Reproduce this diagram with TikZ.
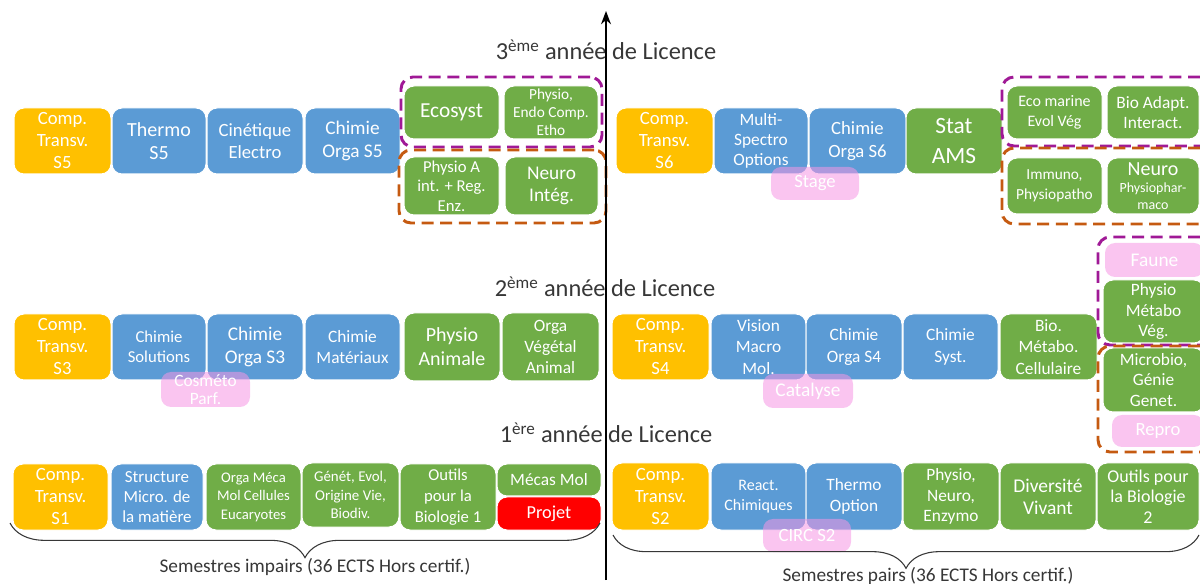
\documentclass[tikz,border=0pt]{standalone}
\usepackage{fontspec}
\setmainfont{Carlito}
\usetikzlibrary{fit,decorations.pathreplacing,arrows.meta}
\definecolor{cOr}{RGB}{255,192,0}
\definecolor{cBl}{RGB}{91,155,213}
\definecolor{cGr}{RGB}{112,173,71}
\definecolor{cPk}{RGB}{245,150,228}
\definecolor{cRd}{RGB}{255,0,0}
\definecolor{cPu}{RGB}{160,25,150}
\definecolor{cOd}{RGB}{197,90,17}
\definecolor{cTx}{RGB}{55,55,55}
\newcommand{\fs}[2]{\fontsize{#1pt}{#2pt}\selectfont}
\newcommand{\bx}[9]{\node[#6, font=\fs{#7}{#8}, minimum width={(#4-#2)*0.75pt}, minimum height={(#5-#3)*0.75pt}] (#1) at ({(#2+#4)/2},{(#3+#5)/2}) {#9};}
\tikzset{
  mod/.style={rounded corners=7.5pt, draw=white, line width=0.75pt, inner sep=0pt, text=white, align=center, anchor=center},
  orbox/.style={mod, fill=cOr},
  blbox/.style={mod, fill=cBl},
  grbox/.style={mod, fill=cGr},
  rdbox/.style={mod, fill=cRd},
  pkbox/.style={mod, draw=none, fill=cPk, fill opacity=0.55, text opacity=1},
  grp/.style={rounded corners=9pt, line width=2.2pt, dash pattern=on 9pt off 5pt, inner sep=0pt},
  grppu/.style={grp, draw=cPu},
  grpor/.style={grp, draw=cOd},
  title/.style={text=cTx, font=\fs{18.3}{21}},
  blab/.style={text=cTx, font=\fs{14.5}{17}},
  brc/.style={decorate, draw=cTx, line width=0.8pt},
}
\begin{document}
\begin{tikzpicture}[x=0.75pt,y=-0.75pt]
\useasboundingbox (0,0) rectangle (1200,584);
\clip (0,0) rectangle (1200,584);
% ---- 3e annee
\bx{s5ct}{14}{108}{111}{174}{orbox}{14}{16.5}{Comp.\\Transv.\\S5}
\bx{s5th}{112}{108}{206}{174}{blbox}{15}{17}{Thermo\\S5}
\bx{s5ci}{207}{108}{303}{174}{blbox}{14}{17}{Cinétique\\Electro}
\bx{s5co}{305}{108}{400}{174}{blbox}{14.5}{17}{Chimie\\Orga S5}
\bx{s5ec}{404}{86}{499}{139}{grbox}{16}{18}{Ecosyst}
\bx{s5ph}{504}{86}{598}{139}{grbox}{11.5}{13.5}{Physio,\\Endo Comp.\\Etho}
\bx{s5pa}{404}{157}{499}{215}{grbox}{12.5}{14.5}{Physio A\\int. + Reg.\\Enz.}
\bx{s5ne}{505}{157}{598}{215}{grbox}{14.5}{16.5}{Neuro\\Intég.}
\bx{s6ct}{616}{108}{713}{174}{orbox}{14}{16.5}{Comp.\\Transv.\\S6}
\bx{s6ms}{714}{108}{808}{174}{blbox}{13}{15}{Multi-\\Spectro\\Options}
\bx{s6co}{809}{108}{906}{174}{blbox}{14}{17}{Chimie\\Orga S6}
\bx{s6st}{906}{108}{1002}{174}{grbox}{17.5}{22}{Stat\\AMS}
\bx{s6em}{1007}{86}{1102}{139}{grbox}{12}{15}{Eco marine\\Evol Vég}
\bx{s6ba}{1107}{86}{1199}{139}{grbox}{13}{15}{Bio Adapt.\\Interact.}
\bx{s6im}{1007}{158}{1102}{214}{grbox}{11.5}{15}{Immuno,\\Physiopatho}
\bx{s6ne}{1107}{158}{1199}{214}{grbox}{10.5}{12.5}{{\fs{15}{17}Neuro}\\Physiophar-\\maco}
\bx{s6sg}{771}{167}{859}{200}{pkbox}{14}{16}{Stage}
% ---- 2e annee
\bx{s3ct}{14}{314}{111}{380}{orbox}{14}{16.5}{Comp.\\Transv.\\S3}
\bx{s3cs}{112}{314}{206}{380}{blbox}{12.5}{15}{Chimie\\Solutions}
\bx{s3co}{207}{314}{303}{380}{blbox}{14.5}{17}{Chimie\\Orga S3}
\bx{s3cm}{305}{314}{400}{380}{blbox}{13}{16}{Chimie\\Matériaux}
\bx{s3pa}{404}{313}{500}{381}{grbox}{15}{18}{Physio\\Animale}
\bx{s3ov}{502}{313}{599}{381}{grbox}{13}{15.5}{Orga\\Végétal\\Animal}
\bx{s3cp}{161}{372}{250}{407}{pkbox}{13}{14}{Cosméto\\Parf.}
\bx{s4ct}{612}{314}{709}{380}{orbox}{14}{16.5}{Comp.\\Transv.\\S4}
\bx{s4vm}{711}{314}{806}{380}{blbox}{13}{16}{Vision\\Macro\\Mol.}
\bx{s4co}{806}{314}{902}{380}{blbox}{13}{16}{Chimie\\Orga S4}
\bx{s4cs}{903}{314}{998}{380}{blbox}{13}{16}{Chimie\\Syst.}
\bx{s4bm}{1000}{314}{1097}{380}{grbox}{13}{16}{Bio.\\Métabo.\\Cellulaire}
\bx{s4ca}{763}{374}{853}{408}{pkbox}{14.5}{16}{Catalyse}
\bx{s4fa}{1105}{243}{1204}{277}{pkbox}{14.5}{16}{Faune}
\bx{s4pm}{1103}{280}{1204}{343}{grbox}{13}{15.5}{Physio\\Métabo\\Vég.}
\bx{s4mg}{1103}{348}{1204}{412}{grbox}{13}{15.5}{Microbio,\\Génie\\Genet.}
\bx{s4re}{1112}{415}{1204}{447}{pkbox}{14}{16}{Repro}
% ---- 1re annee
\bx{s1ct}{13}{464}{108}{530}{orbox}{14}{16.5}{Comp.\\Transv.\\S1}
\bx{s1sm}{111}{464}{203}{530}{blbox}{12.7}{15.2}{Structure\\Micro. de\\la matière}
\bx{s1om}{206}{464}{301}{530}{grbox}{11}{13.8}{Orga Méca\\Mol Cellules\\Eucaryotes}
\bx{s1ge}{302}{463}{399}{527}{grbox}{11.2}{14}{Génét, Evol,\\Origine Vie,\\Biodiv.}
\bx{s1ou}{400}{464}{496}{530}{grbox}{12.5}{15.5}{Outils\\pour la\\Biologie 1}
\bx{s1mm}{497}{464}{601}{496}{grbox}{13}{15}{Mécas Mol}
\bx{s1pr}{497}{497}{601}{530}{rdbox}{13.7}{15}{Projet}
\bx{s2ct}{612}{463}{709}{530}{orbox}{14}{16.5}{Comp.\\Transv.\\S2}
\bx{s2rc}{711}{463}{806}{530}{blbox}{12}{15}{React.\\Chimiques}
\bx{s2to}{806}{463}{902}{530}{blbox}{13}{16}{Thermo\\Option}
\bx{s2pn}{903}{463}{999}{530}{grbox}{13}{15.5}{Physio,\\Neuro,\\Enzymo}
\bx{s2dv}{1000}{463}{1096}{530}{grbox}{14.6}{16.5}{Diversité\\Vivant}
\bx{s2ob}{1097}{463}{1199}{530}{grbox}{13.5}{15.5}{Outils pour\\la Biologie\\2}
\bx{s2ci}{763}{519}{851}{552}{pkbox}{14}{16}{CIRC S2}
% ---- dashed groups
\node[grppu, fit={(401,77) (602,147)}] (g5pu) {};
\node[grpor, fit={(399,150) (606,223)}] (g5or) {};
\node[grppu, fit={(1002,77) (1212,146)}] (g6pu) {};
\node[grpor, fit={(1002,148) (1212,224)}] (g6or) {};
\node[grppu, fit={(1098,237) (1212,345)}] (g4pu) {};
\node[grpor, fit={(1098,346) (1212,452)}] (g4or) {};
% ---- titles
\node[title] (t3) at (606,50) {3\textsuperscript{ème} année de Licence};
\node[title] (t2) at (605,287) {2\textsuperscript{ème} année de Licence};
\node[title] (t1) at (606,433) {1\textsuperscript{ère} année de Licence};
% ---- axis
\coordinate (axb) at (606,580);
\coordinate (axt) at (606,11);
\draw[line width=1.1pt, -{Stealth[length=10pt,width=7.5pt]}] (axb) -- (axt);
% ---- braces
\coordinate (b1a) at (10,523);
\coordinate (b1b) at (600,523);
\coordinate (b2a) at (613,535);
\coordinate (b2b) at (1199,535);
\draw[brc, decoration={brace, mirror, amplitude=26pt}] (b1a) -- (b1b);
\draw[brc, decoration={brace, mirror, amplitude=25pt}] (b2a) -- (b2b);
\node[blab] (bl1) at (315,567) {Semestres impairs (36 ECTS Hors certif.)};
\node[blab] (bl2) at (928,576) {Semestres pairs (36 ECTS Hors certif.)};
\end{tikzpicture}
\end{document}
